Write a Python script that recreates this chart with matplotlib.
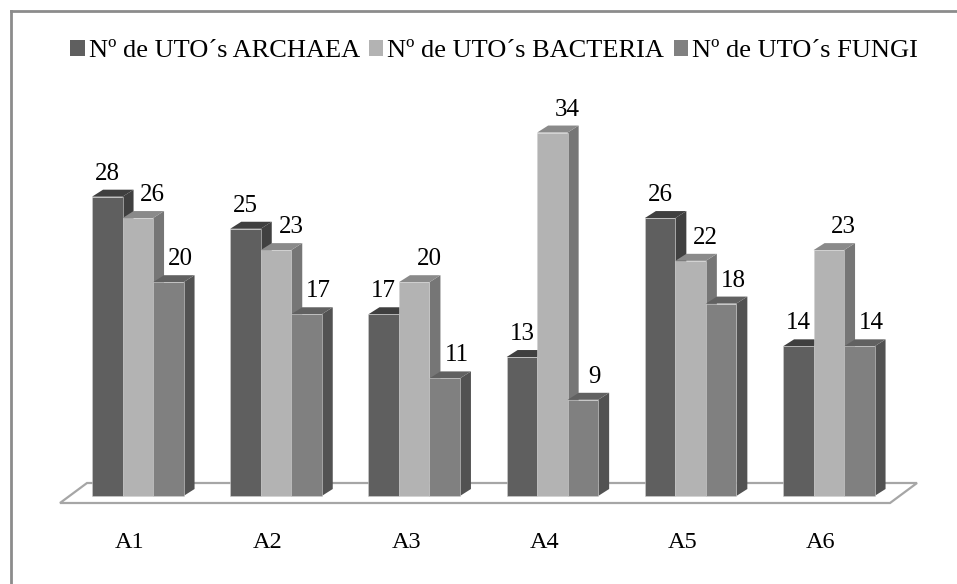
import matplotlib.pyplot as plt
from matplotlib.patches import Polygon, Rectangle, Patch
from matplotlib.lines import Line2D

plt.rcParams['font.family'] = ['Liberation Serif', 'DejaVu Serif']

categories = ['A1', 'A2', 'A3', 'A4', 'A5', 'A6']
series_names = ['Nº de UTO´s ARCHAEA', 'Nº de UTO´s BACTERIA', 'Nº de UTO´s FUNGI']
archaea = [28, 25, 17, 13, 26, 14]
bacteria = [26, 23, 20, 34, 22, 23]
fungi = [20, 17, 11, 9, 18, 14]

values = [archaea, bacteria, fungi]
front_cols = ['#5f5f5f', '#b3b3b3', '#808080']
top_cols = ['#3f3f3f', '#8a8a8a', '#616161']
side_cols = ['#404040', '#767676', '#525252']
label_dx = [0, 15, 12]  # pixels

W, H = 957, 584
fig = plt.figure(figsize=(W / 100, H / 100), dpi=100)
ax = fig.add_axes([0, 0, 1, 1])
ax.axis('off')

# 1 group = 138.2 px, 1 unit of value = 10.69 px, baseline at 496 px from top
px_x, px_y = 138.2, 10.69
ax.set_xlim(-137.8 / px_x, (W - 137.8) / px_x)
ax.set_ylim(-(H - 496) / px_y, 496 / px_y)

w = 30.5 / px_x          # bar width
dx = 11 / px_x           # depth offset
dy = 7 / px_y

n = len(categories)

# floor slab
fl, fr = -0.563, n - 1 + 0.443
fy0, fy1 = -7 / px_y, 13 / px_y
fshift = 27 / px_x
ax.add_patch(Polygon([(fl, fy0), (fr, fy0), (fr + fshift, fy1), (fl + fshift, fy1)],
                     closed=True, facecolor='white', edgecolor='#a6a6a6', lw=1.6, zorder=1))

for i in range(n):
    for j in range(3):
        v = values[j][i]
        x0 = i + (j - 1.5) * w
        x1 = x0 + w
        ax.add_patch(Polygon([(x1, 0), (x1 + dx, dy), (x1 + dx, v + dy), (x1, v)],
                             closed=True, facecolor=side_cols[j], edgecolor='none', zorder=2))
        ax.add_patch(Polygon([(x0, v), (x1, v), (x1 + dx, v + dy), (x0 + dx, v + dy)],
                             closed=True, facecolor=top_cols[j], edgecolor='none', zorder=2))
        ax.add_patch(Rectangle((x0, 0), w, v, facecolor=front_cols[j],
                               edgecolor='#d0d0d0', lw=0.4, zorder=2))
        ax.annotate(str(v), (x0 + w / 2, v), xytext=(label_dx[j], 17),
                    textcoords='offset pixels', ha='center', va='baseline',
                    fontsize=18, color='black', zorder=3)

for i, c in enumerate(categories):
    ax.annotate(c, (i, -(543 - 496) / px_y), xytext=(-8, 0), textcoords='offset pixels',
                ha='center', va='center', fontsize=17.5, color='black')

handles = [Patch(facecolor=front_cols[j], edgecolor='none') for j in range(3)]
fig.legend(handles, series_names, loc='center', bbox_to_anchor=(494 / W, 1 - 51 / H),
           ncol=3, frameon=False, prop={'family': ['Liberation Serif'], 'size': 19},
           handlelength=0.55, handleheight=0.55,
           handletextpad=0.15, columnspacing=0.35, borderpad=0)

# outer frame (right and bottom edges fall outside the image)
fig.add_artist(Line2D([10.5 / W, 10.5 / W], [0, 1 - 11 / H], color='#8c8c8c', lw=2,
                      transform=fig.transFigure))
fig.add_artist(Line2D([10.5 / W, 1], [1 - 11 / H, 1 - 11 / H], color='#8c8c8c', lw=2,
                      transform=fig.transFigure))

fig.savefig('out.png', dpi=100)
